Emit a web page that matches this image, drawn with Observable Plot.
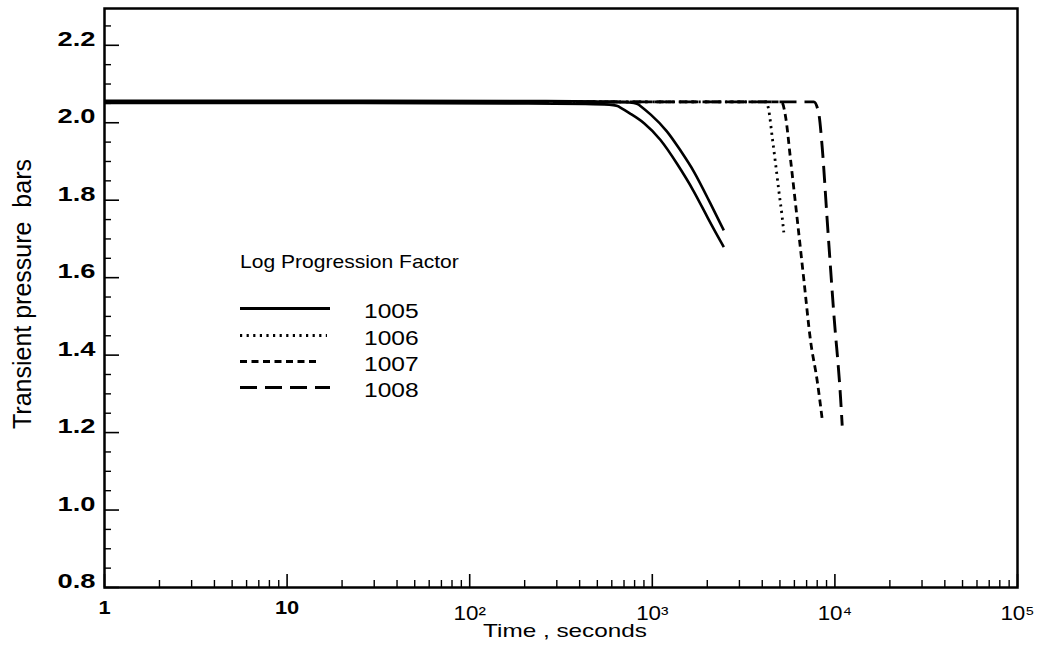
<!DOCTYPE html>
<html><head><meta charset="utf-8">
<script src="https://cdn.jsdelivr.net/npm/d3@7"></script>
<script src="https://cdn.jsdelivr.net/npm/@observablehq/plot@0.6"></script>
<style>
html,body{margin:0;padding:0;background:#fff;}
#chart{width:1040px;height:653px;}
</style></head><body><div id="chart"></div>
<script>
// ---- data ----
const seriesNames = ["1005", "1006", "1007", "1008"];
const legendTitle = "Log Progression Factor";

// two solid curves (factor 1005)
const t1005a = [1, 600, 642, 760, 898, 1109, 1369, 1688, 1999, 2464];
const p1005a = [2.051, 2.051, 2.045, 2.023, 2.002, 1.959, 1.894, 1.825, 1.756, 1.679];
const t1005b = [1, 790, 827, 977, 1207, 1427, 1688, 1999, 2464];
const p1005b = [2.057, 2.057, 2.05, 2.023, 1.98, 1.928, 1.877, 1.808, 1.722];
// dotted (1006)
const t1006 = [1, 4200, 4345, 4536, 4733, 4929, 5145, 5250];
const p1006 = [2.054, 2.054, 2.032, 1.963, 1.894, 1.825, 1.756, 1.717];
// short dashed (1007)
const t1007 = [1, 5100, 5375, 5723, 6228, 6766, 7356, 7998, 8519];
const p1007 = [2.054, 2.054, 2.014, 1.903, 1.748, 1.593, 1.437, 1.334, 1.235];
// long dashed (1008)
const t1008 = [1, 7663, 8164, 8519, 9075, 9868, 10736, 10966];
const p1008 = [2.054, 2.054, 2.023, 1.937, 1.748, 1.506, 1.291, 1.218];

// axes
const yMajor = [0.8, 1.0, 1.2, 1.4, 1.6, 1.8, 2.0, 2.2];
const yMinor = [0.85, 0.9, 0.95, 1.05, 1.1, 1.15, 1.25, 1.3, 1.35, 1.45, 1.5, 1.55, 1.65, 1.7, 1.75, 1.85, 1.9, 1.95, 2.05, 2.1, 2.15, 2.25];
const xMajorBold = [1, 10];
const xMajorBoldLabels = ["1", "10"];
const xMajorPow = [100, 1000, 10000, 100000];
const xMajorPowLabels = ["10\u00B2", "10\u00B3", "10\u2074", "10\u2075"];
const xMinorMult = [2, 3, 4, 5, 6, 7, 8, 9];
const xDecades = [1, 10, 100, 1000, 10000];
const xMinor = xDecades.flatMap(d => xMinorMult.map(m => m * d));

const xTitle = "Time , seconds";
const yTitle = "Transient\u00A0pressure\u00A0\u00A0bars";

// ---- build tables ----
const rows = (ts, ps) => ts.map((t, i) => ({t, p: ps[i]}));
const styleBy = {
  "1005": {dash: null, w: 2.6, curve: "basis"},
  "1006": {dash: "2.2,4.4", w: 2.8, curve: "monotone-x"},
  "1007": {dash: "7,4.5", w: 2.8, curve: "monotone-x"},
  "1008": {dash: "17,8", w: 2.9, curve: "monotone-x"}
};
const curves = [
  {name: "1005", data: rows(t1005a, p1005a)},
  {name: "1005", data: rows(t1005b, p1005b)},
  {name: "1006", data: rows(t1006, p1006)},
  {name: "1007", data: rows(t1007, p1007)},
  {name: "1008", data: rows(t1008, p1008)}
];
const boldLabel = new Map(xMajorBold.map((v, i) => [v, xMajorBoldLabels[i]]));
const powLabel = new Map(xMajorPow.map((v, i) => [v, xMajorPowLabels[i]]));
const yFmt = d3.format(".1f");

const W = 1040, H = 653, mL = 104, mR = 23, mT = 8, mB = 66;
const plotW = W - mL - mR, plotH = H - mT - mB;
const FONT = "Liberation Sans, Arial, Helvetica, sans-serif";

const marks = [
  Plot.tickX(xMinor, {x: d => d, insetTop: plotH - 7, stroke: "black", strokeWidth: 1.4}),
  Plot.tickX([...xMajorBold, ...xMajorPow], {x: d => d, insetTop: plotH - 13, stroke: "black", strokeWidth: 1.6}),
  Plot.tickY(yMinor, {y: d => d, insetRight: plotW - 7, stroke: "black", strokeWidth: 1.4}),
  Plot.tickY(yMajor, {y: d => d, insetRight: plotW - 15, stroke: "black", strokeWidth: 1.6}),
  Plot.axisY({ticks: yMajor, tickSize: 0, tickPadding: 9, dy: -6, tickFormat: yFmt, label: null}),
  Plot.axisX({ticks: xMajorBold, tickSize: 0, tickPadding: 14, tickFormat: d => boldLabel.get(d), label: null}),
  Plot.axisX({ticks: xMajorPow, tickSize: 0, tickPadding: 18, tickFormat: d => powLabel.get(d), label: null}),
  ...curves.map(c => Plot.line(c.data, {
    x: "t", y: "p", curve: styleBy[c.name].curve, stroke: "black",
    strokeWidth: styleBy[c.name].w,
    strokeDasharray: styleBy[c.name].dash || undefined,
    strokeLinecap: "butt"
  })),
  Plot.frame({stroke: "black", strokeWidth: 2.5}),
  Plot.text([xTitle], {text: d => d, frameAnchor: "bottom", textAnchor: "middle", dy: 49, dx: 4, fontSize: 19}),
  Plot.text([yTitle], {text: d => d, frameAnchor: "left", textAnchor: "middle", rotate: -90, dx: -82, dy: -4, fontSize: 25})
];

const chart = Plot.plot({
  width: W, height: H,
  marginLeft: mL, marginRight: mR, marginTop: mT, marginBottom: mB,
  x: {type: "log", domain: [1, 100000], axis: null},
  y: {domain: [0.8, 2.295], axis: null},
  style: {fontFamily: FONT, color: "black", background: "white", overflow: "visible"},
  marks
});
document.getElementById("chart").append(chart);

// font sizes and horizontal stretch of the scanned lettering
const yLabels = new Set(yMajor.map(yFmt));
const svg = d3.select(chart.tagName.toLowerCase() === "svg" ? chart : chart.querySelector("svg"));
svg.selectAll("text").each(function () {
  const t = this;
  const tr = t.getAttribute("transform") || "";
  if (tr.includes("rotate")) return;
  const txt = t.textContent;
  let s = 1.22;
  if (yLabels.has(txt)) { t.style.fontSize = "21px"; t.style.fontWeight = "bold"; s = 1.3; }
  else if (xMajorBoldLabels.includes(txt)) { t.style.fontSize = "17.5px"; t.style.fontWeight = "bold"; s = 1.25; }
  else if (xMajorPowLabels.includes(txt)) { t.style.fontSize = "20px"; t.style.fontWeight = "normal"; s = 1.12; }
  else if (txt === xTitle) { s = 1.28; }
  const x = parseFloat(t.getAttribute("x") || "0") || 0;
  t.removeAttribute("x");
  t.setAttribute("transform", `${tr} translate(${x},0) scale(${s},1)`);
});

// legend
const lg = svg.append("g").attr("font-family", FONT).attr("fill", "black").attr("text-anchor", "start");
lg.append("text").attr("transform", "translate(240,268) scale(1.17,1)")
  .attr("font-size", 18).text(legendTitle);
const legY = [308.5, 335.5, 361.5, 387.5];
const legX2 = [330, 327, 320, 330];
seriesNames.forEach((n, i) => {
  lg.append("line").attr("x1", 240).attr("x2", legX2[i]).attr("y1", legY[i]).attr("y2", legY[i])
    .attr("stroke", "black").attr("stroke-width", styleBy[n].w + 0.2)
    .attr("stroke-dasharray", styleBy[n].dash);
  lg.append("text").attr("transform", `translate(364,${legY[i] + 9}) scale(1.17,1)`)
    .attr("font-size", 21).text(n);
});
</script></body></html>
